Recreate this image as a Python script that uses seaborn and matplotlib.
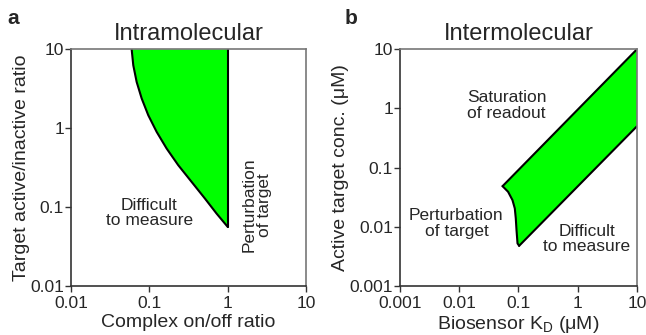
import matplotlib
matplotlib.use("Agg")
import matplotlib.pyplot as plt
import seaborn as sns

# ---- data ----
# Panel a: lower-left boundary of the feasible region (Intramolecular)
a_curve_x = [0.0593, 0.0622, 0.0687, 0.0796, 0.0966, 0.1236, 0.1656, 0.233, 0.345, 0.509, 0.718, 1.0]
a_curve_y = [10, 6.27, 3.85, 2.38, 1.46, 0.898, 0.553, 0.340, 0.209, 0.129, 0.083, 0.056]
a_right_x = [1.0, 1.0]
a_right_y = [0.056, 10]

# Panel b: boundaries of feasible region (Intermolecular)
b_upper_x = [0.054, 10]          # saturation of readout
b_upper_y = [0.0487, 10]
b_lower_x = [0.1028, 10]         # difficult to measure
b_lower_y = [0.00479, 0.5]
b_left_x = [0.054, 0.067, 0.0794, 0.0869, 0.0903, 0.0929, 0.0966, 0.1028]   # perturbation of target
b_left_y = [0.0487, 0.0391, 0.0283, 0.0205, 0.0139, 0.0088, 0.00526, 0.00479]

a_ticks = [0.01, 0.1, 1, 10]
a_ticklabels = ["0.01", "0.1", "1", "10"]
b_ticks = [0.001, 0.01, 0.1, 1, 10]
b_ticklabels = ["0.001", "0.01", "0.1", "1", "10"]

sns.set_style("ticks")
plt.rcParams["font.family"] = ["Liberation Sans", "DejaVu Sans"]
plt.rcParams["mathtext.fontset"] = "custom"
plt.rcParams["mathtext.rm"] = "Liberation Sans"
plt.rcParams["mathtext.it"] = "Liberation Sans"

GREEN = "#00ff00"
TICK_FS = 12.5
LAB_FS = 14
TXT_FS = 12.5
TITLE_FS = 17

fig = plt.figure(figsize=(6.46, 3.35), dpi=100)
axa = fig.add_axes([0.110, 0.146, 0.364, 0.707])
axb = fig.add_axes([0.619, 0.146, 0.367, 0.707])

# ---- panel a ----
poly_x = a_curve_x + [1.0]
poly_y = a_curve_y + [10]
axa.fill(poly_x, poly_y, color=GREEN, lw=0, zorder=1)
sns.lineplot(x=a_curve_x, y=a_curve_y, ax=axa, color="black", lw=1.5, sort=False, estimator=None, zorder=2)
sns.lineplot(x=a_right_x, y=a_right_y, ax=axa, color="black", lw=1.5, sort=False, estimator=None, zorder=2)
axa.set_xscale("log"); axa.set_yscale("log")
axa.set_xlim(0.01, 10); axa.set_ylim(0.01, 10)
axa.set_xticks(a_ticks); axa.set_xticklabels(a_ticklabels)
axa.set_yticks(a_ticks); axa.set_yticklabels(a_ticklabels)
axa.set_xlabel("Complex on/off ratio", fontsize=LAB_FS, labelpad=2)
axa.set_ylabel("Target active/inactive ratio", fontsize=LAB_FS, labelpad=0)
axa.set_title("Intramolecular", fontsize=TITLE_FS, pad=7)
axa.text(0.10, 0.084, "Difficult\nto measure", ha="center", va="center", fontsize=TXT_FS, linespacing=1.05)
axa.text(2.35, 0.106, "Perturbation\nof target", ha="center", va="center", fontsize=TXT_FS, rotation=90, linespacing=1.05)
fig.text(0.012, 0.945, "a", fontsize=15, fontweight="bold", ha="left", va="center")

# ---- panel b ----
bx = b_upper_x + [10] + b_lower_x[::-1][1:] + b_left_x[::-1][1:]
by = b_upper_y + [0.5] + b_lower_y[::-1][1:] + b_left_y[::-1][1:]
axb.fill(bx, by, color=GREEN, lw=0, zorder=1)
for xs, ys in [(b_upper_x, b_upper_y), (b_lower_x, b_lower_y), (b_left_x, b_left_y)]:
    sns.lineplot(x=xs, y=ys, ax=axb, color="black", lw=1.5, sort=False, estimator=None, zorder=2)
axb.set_xscale("log"); axb.set_yscale("log")
axb.set_xlim(0.001, 10); axb.set_ylim(0.001, 10)
axb.set_xticks(b_ticks); axb.set_xticklabels(b_ticklabels)
axb.set_yticks(b_ticks); axb.set_yticklabels(b_ticklabels)
axb.set_xlabel("Biosensor K$_\\mathrm{D}$ (\u03bcM)", fontsize=LAB_FS, labelpad=2)
axb.set_ylabel("Active target conc. (\u03bcM)", fontsize=LAB_FS, labelpad=0)
axb.set_title("Intermolecular", fontsize=TITLE_FS, pad=7)
axb.text(0.063, 1.13, "Saturation\nof readout", ha="center", va="center", fontsize=TXT_FS, linespacing=1.05)
axb.text(0.009, 0.0115, "Perturbation\nof target", ha="center", va="center", fontsize=TXT_FS, linespacing=1.05)
axb.text(1.41, 0.0062, "Difficult\nto measure", ha="center", va="center", fontsize=TXT_FS, linespacing=1.05)
fig.text(0.533, 0.945, "b", fontsize=15, fontweight="bold", ha="left", va="center")

for ax in (axa, axb):
    ax.minorticks_off()
    ax.tick_params(axis="both", which="major", labelsize=TICK_FS, length=4, width=1, color="#333333")
    ax.tick_params(axis="x", pad=3)
    ax.tick_params(axis="y", pad=1)
    for s in ("left", "bottom"):
        ax.spines[s].set_color("#333333"); ax.spines[s].set_linewidth(1.2)
    for s in ("top", "right"):
        ax.spines[s].set_visible(True)
        ax.spines[s].set_color("#777777"); ax.spines[s].set_linewidth(1.2)

fig.savefig("out.png", dpi=100)
